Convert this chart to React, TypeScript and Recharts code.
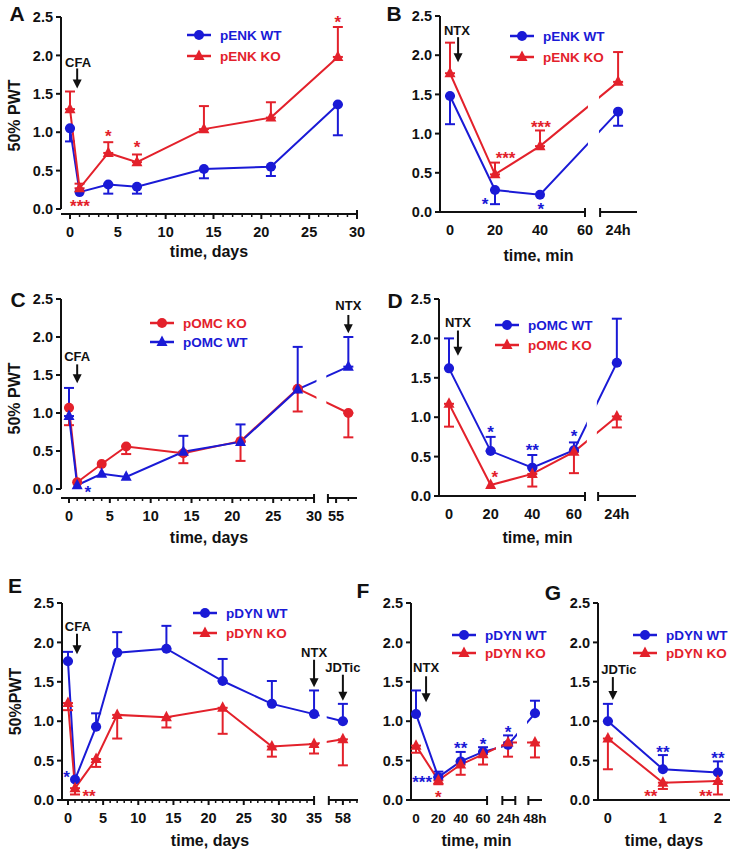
import React from 'react';
import { LineChart, Line, XAxis, YAxis, ErrorBar, ReferenceLine, ReferenceArea, ReferenceDot, Legend } from 'recharts';

const BLUE = '#1a1ad6';
const RED = '#e3212b';
const INK = '#111';
const FONT = '"Liberation Sans", Arial, Helvetica, sans-serif';

// A: pENK, CFA time course (days)
const aDays = [0, 1, 4, 7, 14, 21, 28];
const aWT = [1.05, 0.22, 0.32, 0.29, 0.52, 0.55, 1.36];
const aWTErr = [-0.17, 0, -0.12, -0.09, -0.12, -0.12, -0.4];
const aKO = [1.3, 0.27, 0.73, 0.61, 1.04, 1.19, 1.98];
const aKOErr = [0.23, 0.06, 0.14, 0.1, 0.3, 0.2, 0.39];

// B: pENK, NTX (minutes, 1440 = 24h)
const bMin = [0, 20, 40, 1440];
const bWT = [1.48, 0.28, 0.22, 1.28];
const bWTErr = [-0.36, -0.18, 0, -0.18];
const bKO = [1.77, 0.48, 0.84, 1.66];
const bKOErr = [0.39, 0.15, 0.2, 0.38];

// C: pOMC, CFA time course (days)
const cDays = [0, 1, 4, 7, 14, 21, 28, 56];
const cKO = [1.07, 0.09, 0.33, 0.56, 0.47, 0.63, 1.32, 1.0];
const cKOErr = [-0.23, 0, 0, -0.1, -0.13, -0.26, -0.3, -0.32];
const cWT = [0.96, 0.05, 0.2, 0.16, 0.49, 0.62, 1.31, 1.61];
const cWTErr = [0.37, 0, 0, 0, 0.21, 0.23, 0.56, 0.39];

// D: pOMC, NTX (minutes)
const dMin = [0, 20, 40, 60, 1440];
const dWT = [1.62, 0.57, 0.36, 0.58, 1.69];
const dWTErr = [0.38, 0.18, 0.16, 0.1, 0.56];
const dKO = [1.17, 0.14, 0.28, 0.56, 1.01];
const dKOErr = [-0.29, 0, -0.16, -0.27, -0.14];

// E: pDYN, CFA time course (days)
const eDays = [0, 1, 4, 7, 14, 22, 29, 35, 58];
const eWT = [1.76, 0.26, 0.93, 1.87, 1.92, 1.51, 1.22, 1.09, 1.0];
const eWTErr = [0.12, 0, 0.17, 0.26, 0.29, 0.28, 0.29, 0.3, 0.22];
const eKO = [1.23, 0.15, 0.52, 1.08, 1.05, 1.17, 0.68, 0.71, 0.77];
const eKOErr = [-0.09, -0.08, -0.1, -0.3, -0.13, -0.33, -0.13, -0.12, -0.33];

// F: pDYN, NTX (minutes, 1440 = 24h, 2880 = 48h)
const fMin = [0, 20, 40, 60, 1440, 2880];
const fWT = [1.09, 0.29, 0.49, 0.61, 0.7, 1.1];
const fWTErr = [0.3, 0.07, 0.12, 0.06, 0.12, 0.16];
const fKO = [0.69, 0.25, 0.45, 0.58, 0.73, 0.73];
const fKOErr = [-0.09, -0.05, -0.13, -0.13, -0.18, -0.19];

// G: pDYN, JDTic (days)
const gDays = [0, 1, 2];
const gWT = [1.0, 0.39, 0.35];
const gWTErr = [0.22, 0.18, 0.14];
const gKO = [0.78, 0.22, 0.24];
const gKOErr = [-0.39, -0.08, -0.17];

const Y_TICKS = [0, 0.5, 1, 1.5, 2, 2.5];

type Shape = 'circle' | 'triangle';
type Series = { name: string; color: string; shape: Shape; values: number[]; errs: number[] };
type Tick = { v: number; label?: string; kind: 'major' | 'minor' | 'break' | 'none' };
type Note = { x: number; y: number; text: string; color: string };
type Arrow = { x: number; y1: number; y2: number };
type Gap = { x1: number; x2: number; y1: number; y2: number };
type PanelCfg = {
  letter: string;
  letterAt: [number, number];
  px: [number, number];
  py: [number, number];
  xDomain: [number, number];
  yMin: number;
  times: number[];
  pos: (t: number) => number;
  series: Series[];
  ticks: Tick[];
  tickFont?: number;
  segments: [number, number][];
  notes: Note[];
  arrows: Arrow[];
  gaps: Gap[];
  legendAt: [number, number];
  legendGap: number;
  xTitle: string;
  titleDy: number;
  yTitle?: string;
};

const YW = 60;
const MT = 15;
const MR = 25;
const XH = 50;

const dayTicks = (last: number): Tick[] =>
  Array.from({ length: last + 1 }, (_, i) => ({
    v: i,
    label: i % 5 === 0 ? String(i) : '',
    kind: i === last ? 'break' : i % 5 === 0 ? 'major' : 'minor',
  }));

const errPair = (e: number) => (e < 0 ? [-e, 0] : e > 0 ? [0, e] : undefined);

function Marker({ cx, cy, color, shape }: { cx: number; cy: number; color: string; shape: Shape }) {
  if (cx == null || cy == null) return null;
  if (shape === 'circle') return <circle cx={cx} cy={cy} r={5} fill={color} />;
  return <polygon points={`${cx},${cy - 6.5} ${cx + 5.5},${cy + 4} ${cx - 5.5},${cy + 4}`} fill={color} />;
}

const renderTick = (specs: Tick[], font: number) => (p: any) => {
  const s = specs.find((t) => Math.abs(t.v - p.payload.value) < 1e-6);
  const { x, y } = p;
  if (!s) return <g />;
  return (
    <g>
      {s.kind === 'major' && <line x1={x} x2={x} y1={y} y2={y + 5} stroke={INK} strokeWidth={2} />}
      {s.kind === 'minor' && <line x1={x} x2={x} y1={y} y2={y + 3} stroke={INK} strokeWidth={1.5} />}
      {s.kind === 'break' && <line x1={x} x2={x} y1={y - 4} y2={y + 5} stroke={INK} strokeWidth={2} />}
      {s.label ? (
        <text x={x} y={y + 18} textAnchor="middle" dominantBaseline="central" fontSize={font} fontWeight="bold" fill={INK}>
          {s.label}
        </text>
      ) : null}
    </g>
  );
};

function LegendBody({ series, gap }: { series: Series[]; gap: number }) {
  return (
    <svg width={150} height={20 + gap * series.length} style={{ overflow: 'visible' }}>
      {series.map((s, i) => {
        const y = 10 + i * gap;
        return (
          <g key={s.name}>
            <line x1={0} x2={24} y1={y} y2={y} stroke={s.color} strokeWidth={2.5} />
            <Marker cx={12} cy={y} color={s.color} shape={s.shape} />
            <text x={33} y={y} dominantBaseline="central" fontSize={13.5} fontWeight="bold" fill={s.color} fontFamily={FONT}>
              {s.name}
            </text>
          </g>
        );
      })}
    </svg>
  );
}

function ArrowShape(p: any) {
  const { x1, y1, x2, y2 } = p;
  return (
    <g>
      <line x1={x1} y1={y1} x2={x2} y2={y2 - 7} stroke={INK} strokeWidth={2} />
      <polygon points={`${x2 - 4.5},${y2 - 9} ${x2 + 4.5},${y2 - 9} ${x2},${y2}`} fill={INK} />
    </g>
  );
}

function Panel({ cfg }: { cfg: PanelCfg }) {
  const left = cfg.px[0] - YW;
  const top = cfg.py[0] - MT;
  const width = cfg.px[1] - cfg.px[0] + YW + MR;
  const height = cfg.py[1] - cfg.py[0] + MT + XH;
  const rows = cfg.times.map((t, i) => {
    const r: any = { x: cfg.pos(t) };
    cfg.series.forEach((s, k) => {
      r['v' + k] = s.values[i];
      r['e' + k] = errPair(s.errs[i]);
    });
    return r;
  });
  const [d0] = cfg.xDomain;
  return (
    <div style={{ position: 'absolute', left, top }}>
      <LineChart width={width} height={height} data={rows} margin={{ top: MT, right: MR, bottom: 0, left: 0 }}>
        <XAxis
          type="number"
          dataKey="x"
          domain={cfg.xDomain}
          ticks={cfg.ticks.map((t) => t.v)}
          interval={0}
          axisLine={false}
          tickLine={false}
          tickSize={0}
          tickMargin={0}
          height={XH}
          tick={renderTick(cfg.ticks, cfg.tickFont ?? 14.5)}
          label={{
            content: (p: any) => {
              const vb = p.viewBox || {};
              return (
                <text x={vb.x + vb.width / 2} y={vb.y + cfg.titleDy} textAnchor="middle" dominantBaseline="central" fontSize={16} fontWeight="bold" fill={INK}>
                  {cfg.xTitle}
                </text>
              );
            },
          }}
        />
        <YAxis
          type="number"
          domain={[cfg.yMin, 2.5]}
          ticks={Y_TICKS}
          interval={0}
          axisLine={false}
          tickLine={{ stroke: INK, strokeWidth: 2 }}
          tickSize={5}
          tickMargin={3}
          width={YW}
          tickFormatter={(v: number) => v.toFixed(1)}
          tick={{ fill: INK, fontSize: 14.5, fontWeight: 'bold' }}
          label={
            cfg.yTitle
              ? {
                  content: (p: any) => {
                    const vb = p.viewBox || {};
                    const cx = vb.x + vb.width - 47;
                    const cy = vb.y + vb.height / 2;
                    return (
                      <text x={cx} y={cy} transform={`rotate(-90 ${cx} ${cy})`} textAnchor="middle" dominantBaseline="central" fontSize={16} fontWeight="bold" fill={INK}>
                        {cfg.yTitle}
                      </text>
                    );
                  },
                }
              : undefined
          }
        />
        <ReferenceLine segment={[{ x: d0, y: 0 }, { x: d0, y: 2.5 }]} stroke={INK} strokeWidth={2} ifOverflow="visible" />
        {cfg.segments.map(([a, b], i) => (
          <ReferenceLine key={'s' + i} segment={[{ x: a, y: cfg.yMin }, { x: b, y: cfg.yMin }]} stroke={INK} strokeWidth={2} ifOverflow="visible" />
        ))}
        {cfg.series.map((s, k) => (
          <Line
            key={s.name}
            dataKey={'v' + k}
            stroke={s.color}
            strokeWidth={2}
            isAnimationActive={false}
            activeDot={false}
            dot={(p: any) => <Marker key={s.name + p.index} cx={p.cx} cy={p.cy} color={s.color} shape={s.shape} />}
          >
            <ErrorBar dataKey={'e' + k} direction="y" width={5} stroke={s.color} strokeWidth={2} isAnimationActive={false} />
          </Line>
        ))}
        {cfg.gaps.map((g, i) => (
          <ReferenceArea key={'g' + i} x1={g.x1} x2={g.x2} y1={g.y1} y2={g.y2} fill="#fff" fillOpacity={1} stroke="none" ifOverflow="visible" zIndex={1000} />
        ))}
        {cfg.arrows.map((a, i) => (
          <ReferenceLine key={'a' + i} segment={[{ x: a.x, y: a.y1 }, { x: a.x, y: a.y2 }]} ifOverflow="visible" shape={ArrowShape} zIndex={1100} />
        ))}
        {cfg.notes.map((n, i) => {
          const star = n.text.startsWith('*');
          return (
            <ReferenceDot
              key={'n' + i}
              x={n.x}
              y={n.y}
              r={0}
              ifOverflow="visible"
              zIndex={1100}
              shape={(p: any) => (
                <text
                  x={p.cx}
                  y={p.cy}
                  dy={star ? '0.56em' : undefined}
                  dominantBaseline={star ? undefined : 'central'}
                  textAnchor="middle"
                  fontSize={star ? 17 : 13}
                  fontWeight="bold"
                  fill={n.color}
                >
                  {n.text}
                </text>
              )}
            />
          );
        })}
        <Legend
          layout="vertical"
          align="center"
          verticalAlign="middle"
          wrapperStyle={{ left: cfg.legendAt[0] - left, top: cfg.legendAt[1] - top - 10, width: 150, height: 50 }}
          content={() => <LegendBody series={cfg.series} gap={cfg.legendGap} />}
        />
      </LineChart>
    </div>
  );
}

const panels: PanelCfg[] = [
  {
    letter: 'A',
    letterAt: [17, 13],
    px: [61, 357],
    py: [17, 214],
    xDomain: [-0.94, 30],
    yMin: -0.065,
    times: aDays,
    pos: (d) => d,
    series: [
      { name: 'pENK WT', color: BLUE, shape: 'circle', values: aWT, errs: aWTErr },
      { name: 'pENK KO', color: RED, shape: 'triangle', values: aKO, errs: aKOErr },
    ],
    ticks: dayTicks(30),
    segments: [[-0.94, 30]],
    notes: [
      { x: 1.05, y: 0.09, text: '***', color: RED },
      { x: 4, y: 0.99, text: '*', color: RED },
      { x: 7, y: 0.85, text: '*', color: RED },
      { x: 28, y: 2.48, text: '*', color: RED },
      { x: 0.85, y: 1.91, text: 'CFA', color: INK },
    ],
    arrows: [{ x: 0.75, y1: 1.83, y2: 1.57 }],
    gaps: [],
    legendAt: [187, 35],
    legendGap: 21,
    xTitle: 'time, days',
    titleDy: 37,
    yTitle: '50% PWT',
  },
  {
    letter: 'B',
    letterAt: [394, 13],
    px: [440, 637],
    py: [16, 212],
    xDomain: [-4.44, 83.1],
    yMin: 0,
    times: bMin,
    pos: (m) => (m <= 60 ? m : 74.7),
    series: [
      { name: 'pENK WT', color: BLUE, shape: 'circle', values: bWT, errs: bWTErr },
      { name: 'pENK KO', color: RED, shape: 'triangle', values: bKO, errs: bKOErr },
    ],
    ticks: [
      { v: 0, label: '0', kind: 'none' },
      { v: 20, label: '20', kind: 'none' },
      { v: 40, label: '40', kind: 'none' },
      { v: 60, label: '60', kind: 'break' },
      { v: 66.7, kind: 'break' },
      { v: 74.7, label: '24h', kind: 'none' },
    ],
    segments: [
      [-4.44, 60],
      [66.7, 83.1],
    ],
    notes: [
      { x: 15.6, y: 0.15, text: '*', color: BLUE },
      { x: 40.4, y: 0.08, text: '*', color: BLUE },
      { x: 24.7, y: 0.73, text: '***', color: RED },
      { x: 40.4, y: 1.13, text: '***', color: RED },
      { x: 3.1, y: 2.32, text: 'NTX', color: INK },
    ],
    arrows: [{ x: 3.6, y1: 2.23, y2: 1.91 }],
    gaps: [{ x1: 61.3, x2: 66.2, y1: 0.6, y2: 1.7 }],
    legendAt: [510, 36],
    legendGap: 21,
    xTitle: 'time, min',
    titleDy: 43,
  },
  {
    letter: 'C',
    letterAt: [18, 299],
    px: [61, 357],
    py: [299, 498],
    xDomain: [-0.98, 35.26],
    yMin: -0.118,
    times: cDays,
    pos: (d) => (d <= 30 ? d : 32.7 + (d - 55) * 1.5),
    series: [
      { name: 'pOMC KO', color: RED, shape: 'circle', values: cKO, errs: cKOErr },
      { name: 'pOMC WT', color: BLUE, shape: 'triangle', values: cWT, errs: cWTErr },
    ],
    ticks: [
      ...dayTicks(30),
      { v: 31.7, kind: 'break' },
      { v: 32.7, label: '55', kind: 'major' },
      { v: 34.2, kind: 'minor' },
    ],
    segments: [
      [-0.98, 30],
      [31.7, 35.26],
    ],
    notes: [
      { x: 2.3, y: 0.01, text: '*', color: BLUE },
      { x: 1.0, y: 1.75, text: 'CFA', color: INK },
      { x: 34.2, y: 2.41, text: 'NTX', color: INK },
    ],
    arrows: [
      { x: 1.0, y1: 1.64, y2: 1.39 },
      { x: 34.2, y1: 2.29, y2: 2.05 },
    ],
    gaps: [{ x1: 30.3, x2: 31.5, y1: 0.9, y2: 1.7 }],
    legendAt: [150, 323],
    legendGap: 19,
    xTitle: 'time, days',
    titleDy: 39,
    yTitle: '50% PWT',
  },
  {
    letter: 'D',
    letterAt: [395, 300],
    px: [439, 636],
    py: [299, 496],
    xDomain: [-4.8, 89.8],
    yMin: 0,
    times: dMin,
    pos: (m) => (m <= 60 ? m : 80.6),
    series: [
      { name: 'pOMC WT', color: BLUE, shape: 'circle', values: dWT, errs: dWTErr },
      { name: 'pOMC KO', color: RED, shape: 'triangle', values: dKO, errs: dKOErr },
    ],
    ticks: [
      { v: 0, label: '0', kind: 'none' },
      { v: 20, label: '20', kind: 'none' },
      { v: 40, label: '40', kind: 'none' },
      { v: 60, label: '60', kind: 'none' },
      { v: 65.3, kind: 'break' },
      { v: 71.6, kind: 'break' },
      { v: 80.6, label: '24h', kind: 'none' },
    ],
    segments: [
      [-4.8, 65.3],
      [71.6, 89.8],
    ],
    notes: [
      { x: 20, y: 0.86, text: '*', color: BLUE },
      { x: 40, y: 0.63, text: '**', color: BLUE },
      { x: 60, y: 0.8, text: '*', color: BLUE },
      { x: 22, y: 0.29, text: '*', color: RED },
      { x: 4.3, y: 2.2, text: 'NTX', color: INK },
    ],
    arrows: [{ x: 4.3, y1: 2.1, y2: 1.78 }],
    gaps: [{ x1: 66.2, x2: 71, y1: 0.55, y2: 1.35 }],
    legendAt: [495, 325],
    legendGap: 20,
    xTitle: 'time, min',
    titleDy: 41,
  },
  {
    letter: 'E',
    letterAt: [15, 585],
    px: [62, 358],
    py: [603, 800],
    xDomain: [-0.85, 41.25],
    yMin: 0,
    times: eDays,
    pos: (d) => (d <= 35 ? d : 39.1 + (d - 58)),
    series: [
      { name: 'pDYN WT', color: BLUE, shape: 'circle', values: eWT, errs: eWTErr },
      { name: 'pDYN KO', color: RED, shape: 'triangle', values: eKO, errs: eKOErr },
    ],
    ticks: [
      ...dayTicks(35),
      { v: 37.1, kind: 'break' },
      { v: 38.1, kind: 'minor' },
      { v: 39.1, label: '58', kind: 'major' },
      { v: 40.1, kind: 'minor' },
      { v: 41.1, kind: 'minor' },
    ],
    segments: [
      [-0.85, 35],
      [37.1, 41.25],
    ],
    notes: [
      { x: -0.2, y: 0.34, text: '*', color: BLUE },
      { x: 3.0, y: 0.1, text: '**', color: RED },
      { x: 1.4, y: 2.2, text: 'CFA', color: INK },
      { x: 35, y: 1.87, text: 'NTX', color: INK },
      { x: 39.1, y: 1.68, text: 'JDTic', color: INK },
    ],
    arrows: [
      { x: 1.28, y1: 2.11, y2: 1.85 },
      { x: 35, y1: 1.78, y2: 1.43 },
      { x: 39.1, y1: 1.59, y2: 1.26 },
    ],
    gaps: [{ x1: 35.8, x2: 36.8, y1: 0.5, y2: 1.25 }],
    legendAt: [193, 613],
    legendGap: 20,
    xTitle: 'time, days',
    titleDy: 40,
    yTitle: '50%PWT',
  },
  {
    letter: 'F',
    letterAt: [363, 590],
    px: [411, 542],
    py: [603, 800],
    xDomain: [-4.5, 112.8],
    yMin: 0,
    times: fMin,
    pos: (m) => (m <= 60 ? m : m === 1440 ? 82.4 : 106.5),
    series: [
      { name: 'pDYN WT', color: BLUE, shape: 'circle', values: fWT, errs: fWTErr },
      { name: 'pDYN KO', color: RED, shape: 'triangle', values: fKO, errs: fKOErr },
    ],
    ticks: [
      { v: 0, label: '0', kind: 'none' },
      { v: 20, label: '20', kind: 'none' },
      { v: 40, label: '40', kind: 'none' },
      { v: 60, label: '60', kind: 'none' },
      { v: 63.6, kind: 'break' },
      { v: 77.3, kind: 'break' },
      { v: 82.4, label: '24h', kind: 'none' },
      { v: 88.9, kind: 'break' },
      { v: 100.6, kind: 'break' },
      { v: 106.5, label: '48h', kind: 'none' },
    ],
    tickFont: 13.5,
    segments: [
      [-4.5, 63.6],
      [77.3, 88.9],
      [100.6, 112.8],
    ],
    notes: [
      { x: 5.5, y: 0.27, text: '***', color: BLUE },
      { x: 20, y: 0.08, text: '*', color: RED },
      { x: 40, y: 0.7, text: '**', color: BLUE },
      { x: 60, y: 0.75, text: '*', color: BLUE },
      { x: 82.4, y: 0.91, text: '*', color: BLUE },
      { x: 9, y: 1.68, text: 'NTX', color: INK },
    ],
    arrows: [{ x: 9, y1: 1.57, y2: 1.24 }],
    gaps: [
      { x1: 71.6, x2: 76.1, y1: 0.5, y2: 0.9 },
      { x1: 90.4, x2: 99.4, y1: 0.6, y2: 1.1 },
    ],
    legendAt: [452, 635],
    legendGap: 18,
    xTitle: 'time, min',
    titleDy: 40,
  },
  {
    letter: 'G',
    letterAt: [553, 592],
    px: [598, 730],
    py: [603, 800],
    xDomain: [-0.18, 2.22],
    yMin: 0,
    times: gDays,
    pos: (d) => d,
    series: [
      { name: 'pDYN WT', color: BLUE, shape: 'circle', values: gWT, errs: gWTErr },
      { name: 'pDYN KO', color: RED, shape: 'triangle', values: gKO, errs: gKOErr },
    ],
    ticks: [
      { v: 0, label: '0', kind: 'none' },
      { v: 1, label: '1', kind: 'none' },
      { v: 2, label: '2', kind: 'none' },
    ],
    segments: [[-0.18, 2.22]],
    notes: [
      { x: 1, y: 0.65, text: '**', color: BLUE },
      { x: 2, y: 0.58, text: '**', color: BLUE },
      { x: 0.78, y: 0.1, text: '**', color: RED },
      { x: 1.78, y: 0.1, text: '**', color: RED },
      { x: 0.2, y: 1.65, text: 'JDTic', color: INK },
    ],
    arrows: [{ x: 0.09, y1: 1.56, y2: 1.27 }],
    gaps: [],
    legendAt: [633, 635],
    legendGap: 18,
    xTitle: 'time, days',
    titleDy: 40,
  },
];

export default function App() {
  return (
    <div
      style={{
        position: 'absolute',
        left: 0,
        top: 0,
        width: 730,
        height: 853,
        overflow: 'hidden',
        background: '#fff',
        fontFamily: FONT,
      }}
    >
      {panels.map((cfg) => (
        <Panel key={cfg.letter} cfg={cfg} />
      ))}
      {panels.map((cfg) => (
        <div
          key={'L' + cfg.letter}
          style={{
            position: 'absolute',
            left: cfg.letterAt[0],
            top: cfg.letterAt[1],
            transform: 'translate(-50%, -50%)',
            fontSize: 21,
            fontWeight: 'bold',
            color: INK,
            lineHeight: 1,
          }}
        >
          {cfg.letter}
        </div>
      ))}
    </div>
  );
}
